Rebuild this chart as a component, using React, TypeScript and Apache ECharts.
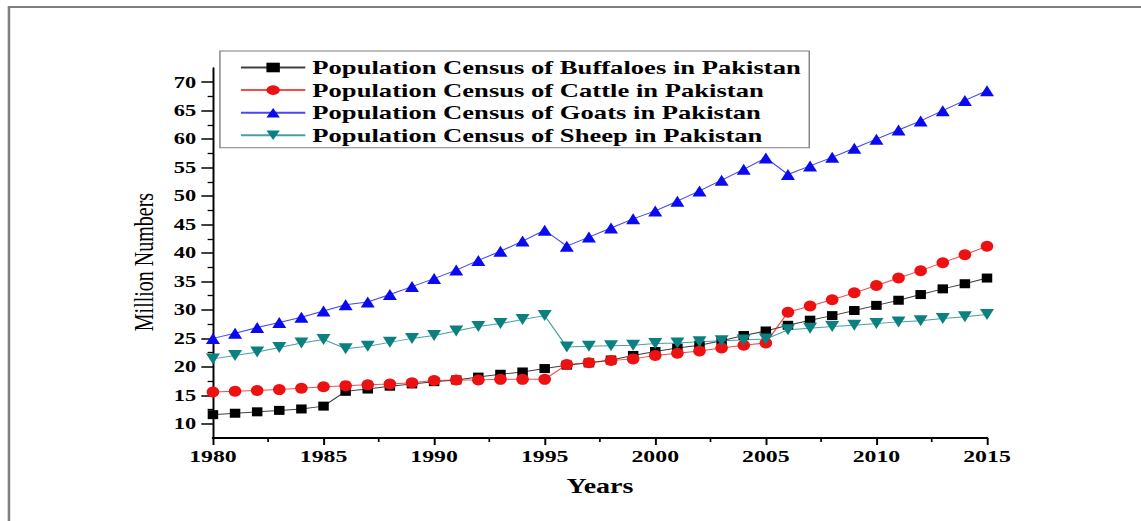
import React, { useEffect, useRef } from "react";
import * as echarts from "echarts";

// ---- data (million head) ----
const years = [
  1980, 1981, 1982, 1983, 1984, 1985, 1986, 1987, 1988, 1989,
  1990, 1991, 1992, 1993, 1994, 1995, 1996, 1997, 1998, 1999,
  2000, 2001, 2002, 2003, 2004, 2005, 2006, 2007, 2008, 2009,
  2010, 2011, 2012, 2013, 2014, 2015,
];
const buffaloes = [
  11.6, 11.85, 12.1, 12.35, 12.6, 13.1, 15.7, 16.1, 16.6, 17.0,
  17.4, 17.7, 18.2, 18.7, 19.1, 19.7, 20.3, 20.7, 21.2, 22.0,
  22.7, 23.3, 23.8, 24.6, 25.5, 26.3, 27.3, 28.2, 29.0, 29.9,
  30.8, 31.7, 32.7, 33.7, 34.6, 35.6,
];
const cattle = [
  15.6, 15.7, 15.85, 16.0, 16.25, 16.5, 16.7, 16.85, 17.0, 17.2,
  17.6, 17.7, 17.7, 17.8, 17.8, 17.8, 20.4, 20.7, 21.1, 21.4,
  22.0, 22.4, 22.8, 23.3, 23.8, 24.2, 29.6, 30.7, 31.8, 33.0,
  34.3, 35.6, 36.9, 38.3, 39.7, 41.2,
];
const goats = [
  25.0, 25.9, 26.9, 27.8, 28.7, 29.8, 30.9, 31.4, 32.7, 34.1,
  35.5, 37.0, 38.7, 40.3, 42.1, 44.0, 41.2, 42.8, 44.4, 46.0,
  47.4, 49.1, 50.9, 52.8, 54.7, 56.7, 53.8, 55.3, 56.8, 58.4,
  60.0, 61.6, 63.2, 65.0, 66.8, 68.5,
];
const sheep = [
  21.4, 22.0, 22.6, 23.4, 24.2, 24.8, 23.2, 23.6, 24.3, 25.0,
  25.5, 26.3, 27.1, 27.6, 28.3, 29.0, 23.5, 23.6, 23.7, 23.8,
  24.1, 24.2, 24.4, 24.6, 24.7, 24.9, 26.5, 26.8, 27.1, 27.3,
  27.6, 27.9, 28.1, 28.5, 28.8, 29.2,
];
const seriesNames = [
  "Population Census of Buffaloes in Pakistan",
  "Population Census of Cattle in Pakistan",
  "Population Census of Goats in Pakistan",
  "Population Census of Sheep in Pakistan",
];
const yMajorTicks = [10, 15, 20, 25, 30, 35, 40, 45, 50, 55, 60, 65, 70];
const yMinorTicks = [12.5, 17.5, 22.5, 27.5, 32.5, 37.5, 42.5, 47.5, 52.5, 57.5, 62.5, 67.5];
const xTitle = "Years";
const yTitle = "Million Numbers";

// the reference picture is stretched horizontally
const S = 1.4;
const W = 1141 / S;
const H = 521;
const FONT = "'Liberation Serif', 'Times New Roman', serif";

const pairs = (vals: number[]) => years.map((y, i) => [y, vals[i]]);

export default function App() {
  const ref = useRef<HTMLDivElement>(null);
  useEffect(() => {
    if (!ref.current) return;
    const chart = echarts.init(ref.current, null, { renderer: "svg" });
    const colors = ["#000000", "#ee1111", "#0a0af0", "#0b8080"];
    const symbols = ["rect", "circle", "triangle", "triangle"];
    const sizes: [number, number][] = [
      [7.5, 9],
      [9, 11],
      [10, 11],
      [10, 11],
    ];
    const dataSets = [buffaloes, cattle, goats, sheep];
    chart.setOption({
      animation: false,
      backgroundColor: "#ffffff",
      textStyle: { fontFamily: FONT },
      grid: { left: 152.1, right: W - 705, top: 68, bottom: 83 },
      legend: {
        orient: "vertical",
        left: 157.1,
        top: 51,
        padding: [7, 6, 3, 14],
        itemWidth: 46,
        itemHeight: 12,
        itemGap: 3.6,
        borderColor: "#7f7f7f",
        borderWidth: 1,
        data: seriesNames,
        textStyle: { fontFamily: FONT, fontWeight: "bold", fontSize: 19, color: "#000" },
      },
      xAxis: {
        type: "value",
        min: 1980,
        max: 2015,
        interval: 5,
        name: xTitle,
        nameLocation: "middle",
        nameGap: 38,
        nameTextStyle: { fontFamily: FONT, fontWeight: "bold", fontSize: 20, color: "#000" },
        axisLine: { lineStyle: { color: "#000", width: 1.8 } },
        axisTick: { show: true, inside: false, length: 7, lineStyle: { color: "#000", width: 1.4 } },
        minorTick: { show: true, splitNumber: 2, length: 4, lineStyle: { color: "#000", width: 1.2 } },
        axisLabel: {
          fontFamily: FONT,
          fontWeight: "bold",
          fontSize: 17,
          color: "#000",
          margin: 10,
          formatter: (v: number) => String(v),
        },
        splitLine: { show: false },
        minorSplitLine: { show: false },
      },
      yAxis: [
        {
          type: "value",
          min: 7.5,
          max: 72.5,
          axisLine: { show: true, lineStyle: { color: "#000", width: 1.4 } },
          axisTick: {
            show: true,
            inside: false,
            length: 8.3,
            customValues: yMajorTicks,
            lineStyle: { color: "#000", width: 1.5 },
          },
          axisLabel: {
            customValues: yMajorTicks,
            fontFamily: FONT,
            fontWeight: "bold",
            fontSize: 16,
            color: "#000",
            margin: 12,
          },
          splitLine: { show: false },
        },
        {
          type: "value",
          min: 7.5,
          max: 72.5,
          position: "left",
          axisLine: { show: false },
          axisTick: {
            show: true,
            inside: false,
            length: 3.8,
            customValues: yMinorTicks,
            lineStyle: { color: "#000", width: 1.3 },
          },
          axisLabel: { show: false },
          splitLine: { show: false },
        },
      ],
      graphic: [
        {
          type: "rect",
          silent: true,
          z: -10,
          shape: { x: 6.4, y: 7, width: 1200, height: 1200 },
          style: { fill: "none", stroke: "#7f7f7f", lineWidth: 1.8 },
        },
        {
          type: "text",
          silent: true,
          x: 102,
          y: 262,
          rotation: Math.PI / 2,
          style: {
            text: yTitle,
            fontFamily: FONT,
            fontSize: 20,
            fill: "#000",
            align: "center",
            verticalAlign: "middle",
          },
        },
      ],
      series: dataSets.map((d, i) => ({
        name: seriesNames[i],
        type: "line",
        xAxisIndex: 0,
        yAxisIndex: 0,
        data: pairs(d),
        symbol: symbols[i],
        symbolRotate: i === 3 ? 180 : 0,
        symbolSize: sizes[i],
        showAllSymbol: true,
        lineStyle: { color: colors[i], width: 1, opacity: 0.75 },
        itemStyle: { color: colors[i] },
        emphasis: { disabled: true },
        z: 2 + i,
      })),
    });
    return () => chart.dispose();
  }, []);
  return (
    <div
      ref={ref}
      style={{
        position: "absolute",
        left: 0,
        top: 0,
        width: W,
        height: H,
        transform: `scaleX(${S})`,
        transformOrigin: "0 0",
      }}
    />
  );
}
